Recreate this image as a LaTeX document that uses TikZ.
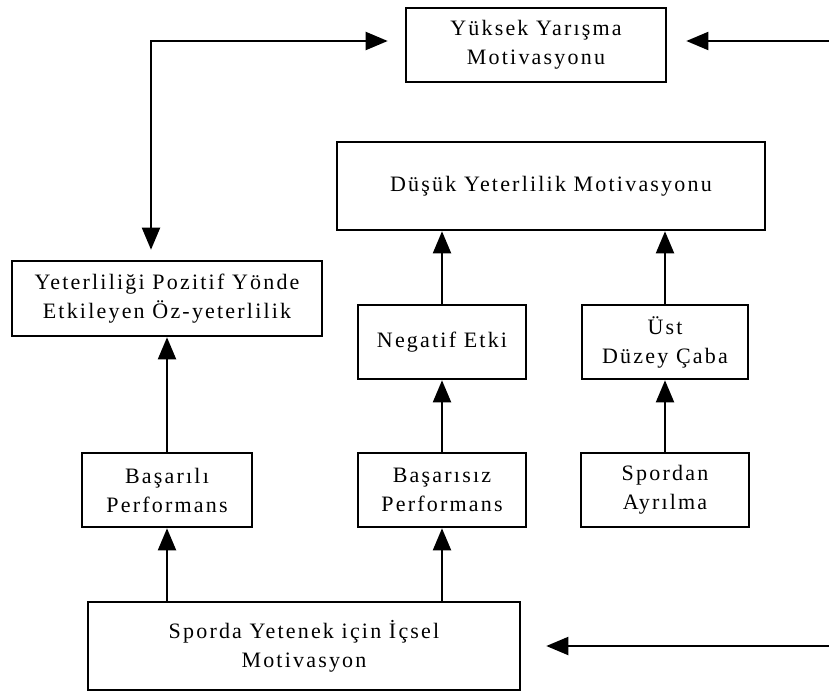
\documentclass[tikz,border=0pt]{standalone}
\usepackage{fontspec}
\setmainfont{Liberation Serif}[LetterSpace=10]
\usetikzlibrary{arrows.meta,positioning}

\begin{document}
\begin{tikzpicture}%
  [x=1pt, y=-1pt,
   >={Triangle[length=22pt,width=18pt]},
   on grid,
   every node/.style={font=\fontsize{22}{29}\selectfont, align=center},
   box/.style={draw, line width=2.6pt, inner sep=0pt},
   link/.style={->, line width=2pt}
  ]
\useasboundingbox (0,0) rectangle (829,693);

\node[box, minimum width=260pt, minimum height=74pt] (yuksek)    at (536,45)     {Yüksek Yarışma\\Motivasyonu};
\node[box, minimum width=428pt, minimum height=88pt] (dusuk)     at (551,186)    {Düşük Yeterlilik Motivasyonu};
\node[box, minimum width=168pt, minimum height=74pt] (basarisiz) at (442,490)    {Başarısız\\Performans};
\node[box, minimum width=168pt, minimum height=74pt] (negatif)   [above=148pt of basarisiz] {Negatif Etki};
\node[box, minimum width=166pt, minimum height=74pt] (ust)       [right=223pt of negatif]   {Üst\\Düzey Çaba};
\node[box, minimum width=168pt, minimum height=74pt] (spordan)   [below=148pt of ust]       {Spordan\\Ayrılma};
\node[box, minimum width=170pt, minimum height=74pt] (basarili)  [left=275pt of basarisiz]  {Başarılı\\Performans};
\node[box, minimum width=310pt, minimum height=75pt] (yeter)     [above=191.5pt of basarili] {Yeterliliği Pozitif Yönde\\Etkileyen Öz-yeterlilik};
\node[box, minimum width=432pt, minimum height=88pt] (sporda)    at (304,646)    {Sporda Yetenek için İçsel\\Motivasyon};

\coordinate (bend)  at (151,41);
\coordinate (topin) at (829,41);
\coordinate (botin) at (829,646);

% upward links
\draw[link] (sporda.north -| basarili)  -- (basarili);
\draw[link] (sporda.north -| basarisiz) -- (basarisiz);
\draw[link] (basarili)  -- (yeter);
\draw[link] (basarisiz) -- (negatif);
\draw[link] (spordan)   -- (ust);
\draw[link] (negatif)   -- (negatif |- dusuk.south);
\draw[link] (ust)       -- (ust |- dusuk.south);

% feedback lines
\draw[link, <->, shorten <=10pt, shorten >=17pt] (yeter.north -| bend) |- (bend -| yuksek.west);
\draw[link, shorten >=19pt] (topin) -- (topin -| yuksek.east);
\draw[link, shorten >=25pt] (botin) -- (sporda.east);
\end{tikzpicture}
\end{document}
